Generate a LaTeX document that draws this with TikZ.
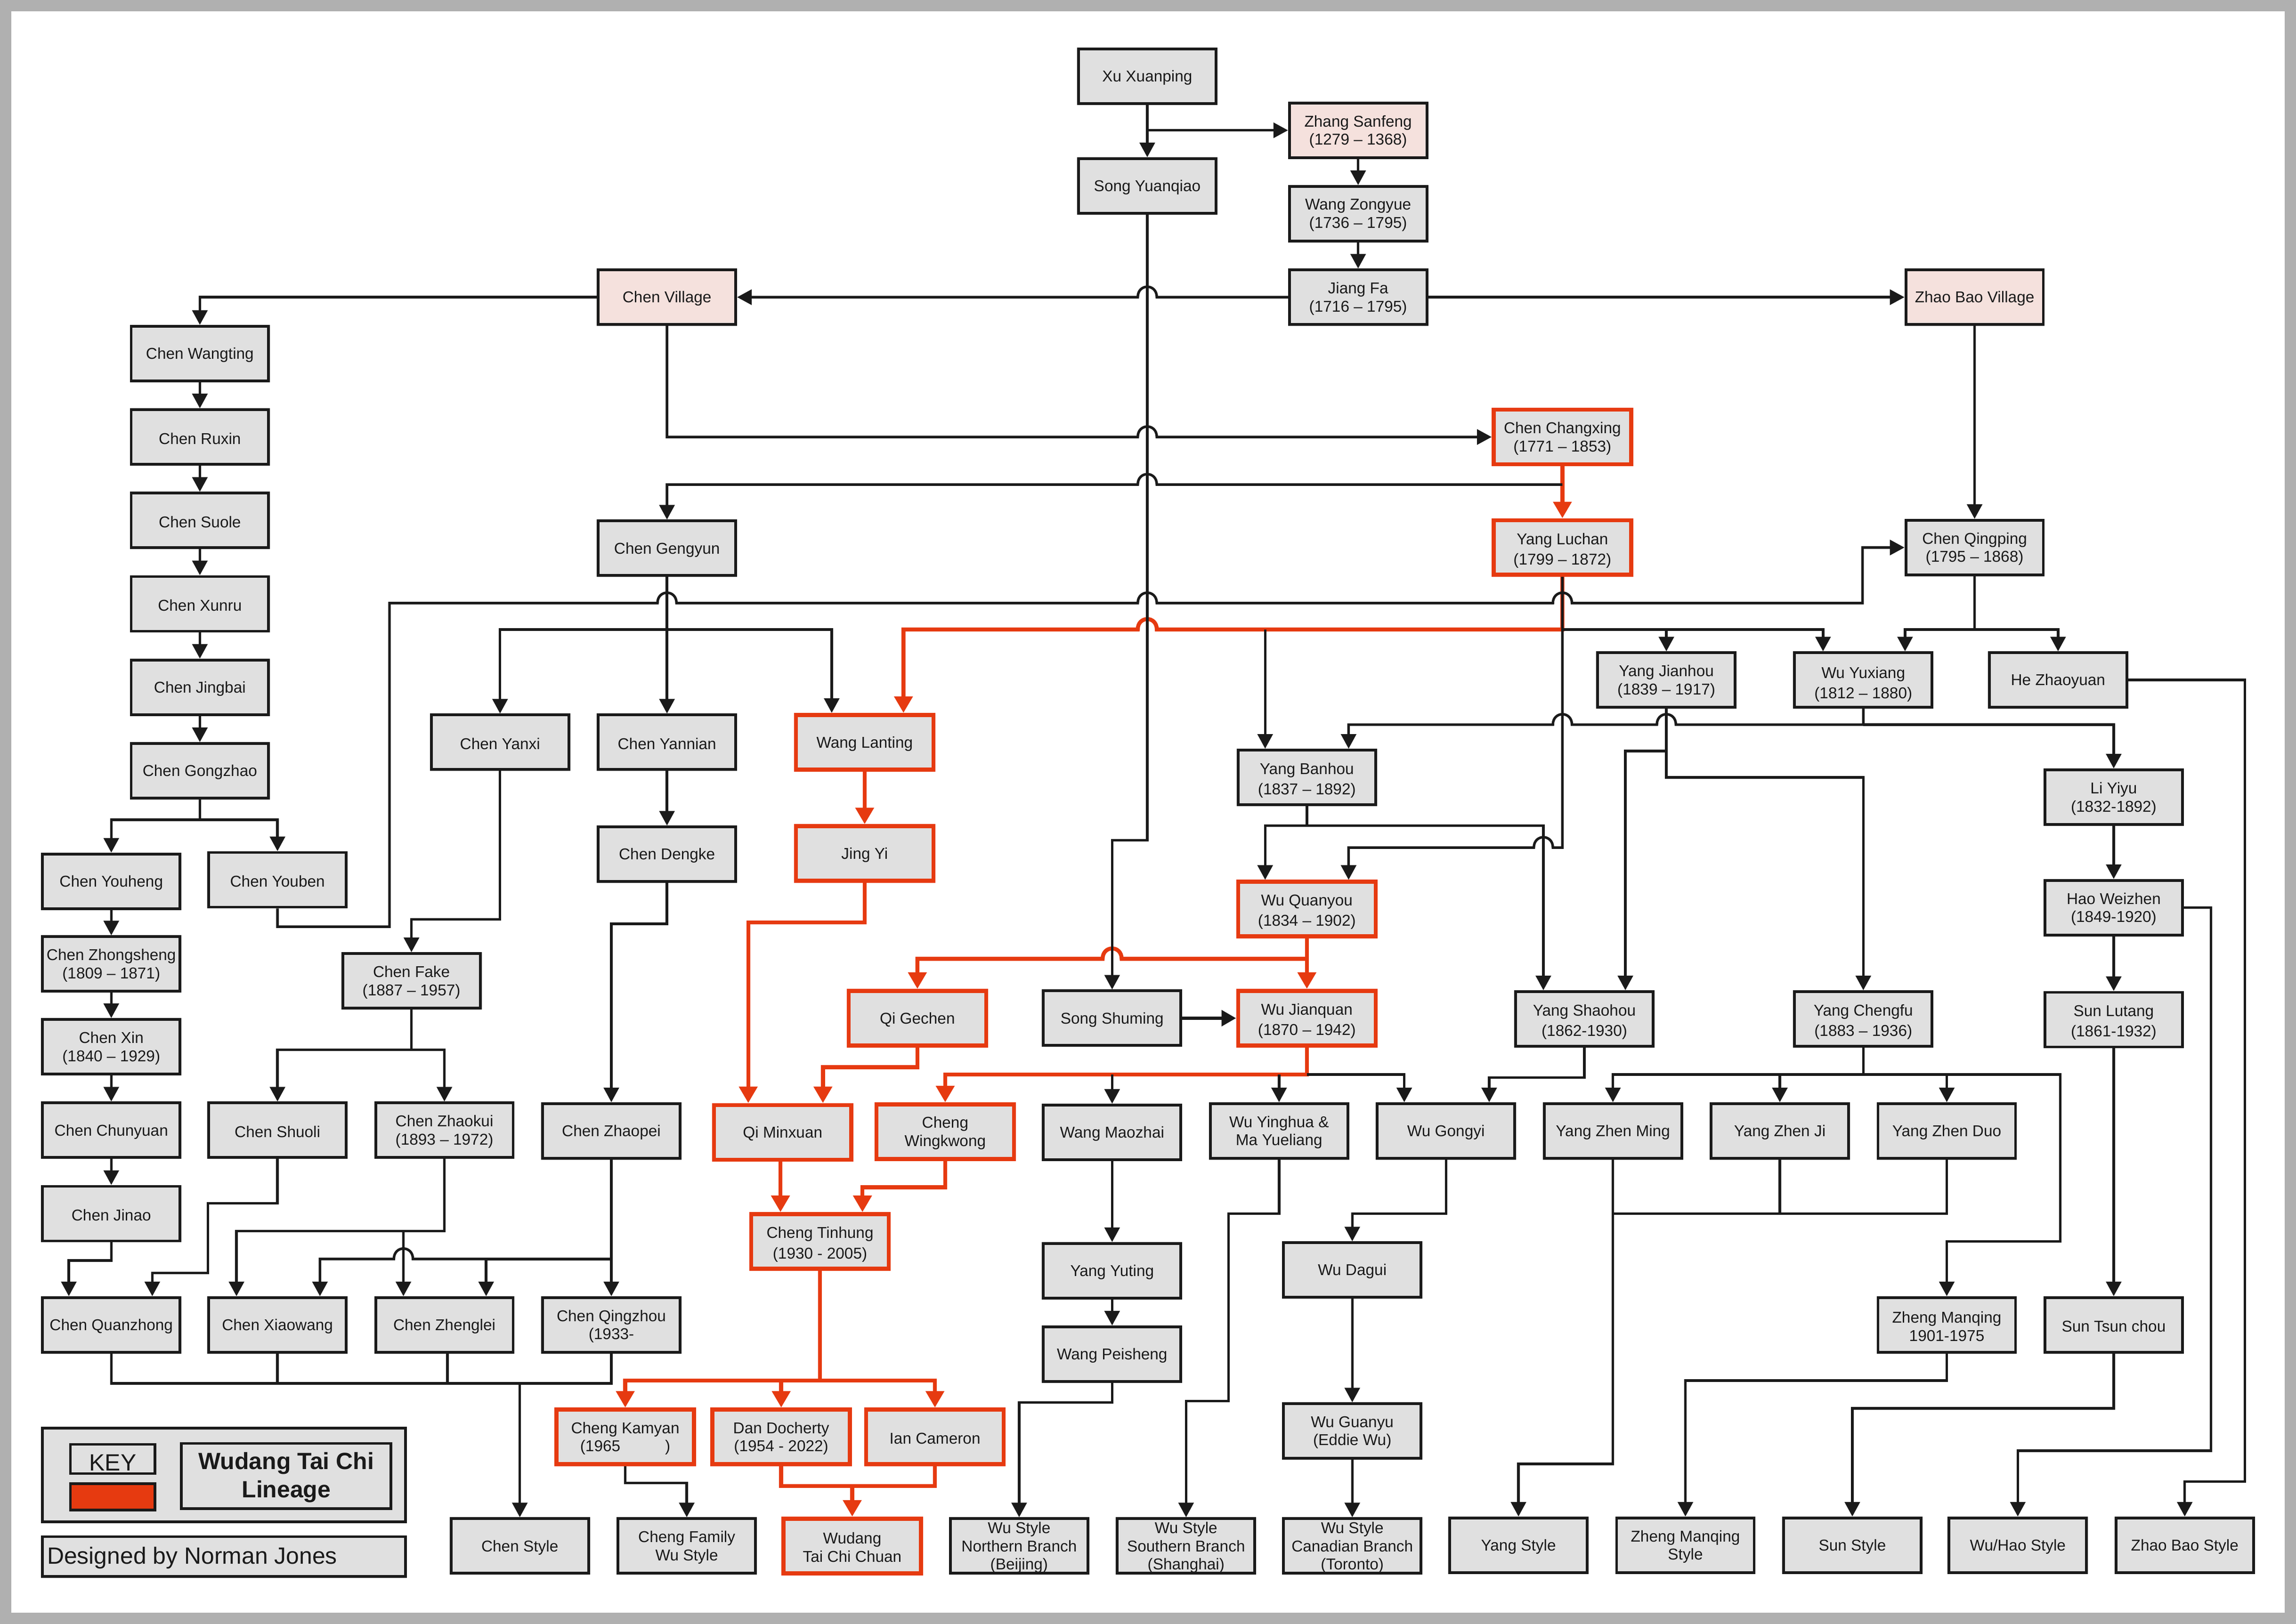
\documentclass[tikz,border=0pt]{standalone}
\usepackage{fontspec}
\setmainfont{Liberation Sans}
\usetikzlibrary{arrows.meta}
\definecolor{boxgray}{HTML}{E0E0E0}
\definecolor{boxpink}{HTML}{F5E1DD}
\definecolor{lred}{HTML}{E63A10}
\definecolor{lblack}{HTML}{1A1A1A}
\definecolor{frameg}{HTML}{B0B0B0}
\newcommand{\hopl}[2]{-- (#1+6.5,#2) .. controls (#1+6.5,#2-9.5) and (#1-6.5,#2-9.5) .. (#1-6.5,#2)}
\newcommand{\hopr}[2]{-- (#1-6.5,#2) .. controls (#1-6.5,#2-9.5) and (#1+6.5,#2-9.5) .. (#1+6.5,#2)}
\tikzset{
  x=0.03109cm,y=-0.03109cm,
  pers/.style={draw=lblack,fill=boxgray,line width=1.65pt,minimum width=2.92cm,minimum height=1.16cm,inner sep=0pt,align=center,font=\fontsize{9.5}{11}\selectfont,text=lblack,text height={\dimexpr\ht\pgfnodeparttextbox+1.8pt\relax}},
  place/.style={pers,fill=boxpink},
  redbox/.style={pers,draw=lred,line width=2.45pt},
  widetext/.style={font=\fontsize{9.5}{12.3}\selectfont,text height={\dimexpr\ht\pgfnodeparttextbox+3.6pt\relax}},
  blk/.style={draw=lblack,line width=1.55pt},
  ar/.style={blk,-{Triangle[width=0.32cm,length=0.31cm]}},
  red/.style={draw=lred,line width=2.4pt},
  rar/.style={red,-{Triangle[width=0.38cm,length=0.35cm]}},
}
\begin{document}
\begin{tikzpicture}
\useasboundingbox (0,0) rectangle (1568,1109.3);
\fill[frameg] (0,0) rectangle (1568,1109.3);
\fill[white] (7.7,7.7) rectangle (1560.3,1101.6);
% people
\node[pers] (xu) at (783.5,52) {Xu Xuanping};
\node[pers] (song) at (783.5,127) {Song Yuanqiao};
\node[place] (zhang) at (927.5,89) {Zhang Sanfeng\\(1279 – 1368)};
\node[pers] (zongyue) at (927.5,146) {Wang Zongyue\\(1736 – 1795)};
\node[pers] (jiang) at (927.5,203) {Jiang Fa\\(1716 – 1795)};
\node[place] (cvill) at (455.5,203) {Chen Village};
\node[place] (zvill) at (1348.5,203) {Zhao Bao Village};
\node[pers] (wangting) at (136.5,241.5) {Chen Wangting};
\node[pers] (ruxin) at (136.5,298.5) {Chen Ruxin};
\node[pers] (suole) at (136.5,355.5) {Chen Suole};
\node[pers] (xunru) at (136.5,412.5) {Chen Xunru};
\node[pers] (jingbai) at (136.5,469.5) {Chen Jingbai};
\node[pers] (gongzhao) at (136.5,526.5) {Chen Gongzhao};
\node[pers] (youheng) at (76,602) {Chen Youheng};
\node[pers] (youben) at (189.5,601) {Chen Youben};
\node[pers] (zhongsheng) at (76,658.5) {Chen Zhongsheng\\(1809 – 1871)};
\node[pers] (cxin) at (76,715) {Chen Xin\\(1840 – 1929)};
\node[pers] (chunyuan) at (76,772) {Chen Chunyuan};
\node[pers] (jinao) at (76,829) {Chen Jinao};
\node[pers] (quanzhong) at (76,905) {Chen Quanzhong};
\node[redbox] (changxing) at (1067,298.5) {Chen Changxing\\(1771 – 1853)};
\node[redbox,widetext] (luchan) at (1067,374) {Yang Luchan\\(1799 – 1872)};
\node[pers] (gengyun) at (455.5,374.5) {Chen Gengyun};
\node[pers] (qingping) at (1348.5,374) {Chen Qingping\\(1795 – 1868)};
\node[pers] (jianhou) at (1138,464.5) {Yang Jianhou\\(1839 – 1917)};
\node[pers,font=\fontsize{9.5}{12.2}\selectfont,text height={\dimexpr\ht\pgfnodeparttextbox+5pt\relax}] (yuxiang) at (1272.5,464.5) {Wu Yuxiang\\(1812 – 1880)};
\node[pers] (zhaoyuan) at (1405.5,464.5) {He Zhaoyuan};
\node[pers] (yanxi) at (341.5,507) {Chen Yanxi};
\node[pers] (yannian) at (455.5,507) {Chen Yannian};
\node[redbox] (lanting) at (590.5,507) {Wang Lanting};
\node[pers,widetext] (banhou) at (892.5,531) {Yang Banhou\\(1837 – 1892)};
\node[pers] (liyiyu) at (1443.5,544.5) {Li Yiyu\\(1832-1892)};
\node[redbox] (jingyi) at (590.5,583) {Jing Yi};
\node[pers] (dengke) at (455.5,583.5) {Chen Dengke};
\node[redbox,widetext] (quanyou) at (892.5,621) {Wu Quanyou\\(1834 – 1902)};
\node[pers] (weizhen) at (1443.5,620) {Hao Weizhen\\(1849-1920)};
\node[pers] (fake) at (281,670) {Chen Fake\\(1887 – 1957)};
\node[redbox] (gechen) at (626.5,695.5) {Qi Gechen};
\node[pers] (shuming) at (759.5,695.5) {Song Shuming};
\node[redbox,widetext] (jianquan) at (892.5,695.5) {Wu Jianquan\\(1870 – 1942)};
\node[pers,widetext] (shaohou) at (1082,696) {Yang Shaohou\\(1862-1930)};
\node[pers,widetext] (chengfu) at (1272.5,696) {Yang Chengfu\\(1883 – 1936)};
\node[pers,widetext] (lutang) at (1443.5,696.5) {Sun Lutang\\(1861-1932)};
\node[pers] (shuoli) at (189.5,772) {Chen Shuoli};
\node[pers] (zhaokui) at (303.5,772) {Chen Zhaokui\\(1893 – 1972)};
\node[pers] (zhaopei) at (417.5,772.5) {Chen Zhaopei};
\node[redbox] (minxuan) at (534.5,773.5) {Qi Minxuan};
\node[redbox] (wingkwong) at (645.5,773) {Cheng\\Wingkwong};
\node[pers] (maozhai) at (759.5,773.5) {Wang Maozhai};
\node[pers] (yinghua) at (873.5,772.5) {Wu Yinghua \&\\Ma Yueliang};
\node[pers] (gongyi) at (987.5,772.5) {Wu Gongyi};
\node[pers] (zming) at (1101.5,772.5) {Yang Zhen Ming};
\node[pers] (zji) at (1215.5,772.5) {Yang Zhen Ji};
\node[pers] (zduo) at (1329.5,772.5) {Yang Zhen Duo};
\node[redbox,widetext] (tinhung) at (560,848) {Cheng Tinhung\\(1930 - 2005)};
\node[pers] (yuting) at (759.5,868) {Yang Yuting};
\node[pers] (dagui) at (923.5,867.5) {Wu Dagui};
\node[pers] (xiaowang) at (189.5,905) {Chen Xiaowang};
\node[pers] (zhenglei) at (303.5,905) {Chen Zhenglei};
\node[pers] (qingzhou) at (417.5,905) {Chen Qingzhou\\(1933-};
\node[pers] (peisheng) at (759.5,925) {Wang Peisheng};
\node[pers] (manqing) at (1329.5,905) {Zheng Manqing\\1901-1975};
\node[pers] (tsunchou) at (1443.5,905) {Sun Tsun chou};
\node[redbox] (kamyan) at (427,981.5) {Cheng Kamyan\\(1965\hspace{0.95cm})};
\node[redbox] (docherty) at (533.5,981.5) {Dan Docherty\\(1954 - 2022)};
\node[redbox] (cameron) at (638.5,981.5) {Ian Cameron};
\node[pers] (guanyu) at (923.5,977.5) {Wu Guanyu\\(Eddie Wu)};
\node[pers] (schen) at (355,1056) {Chen Style};
\node[pers] (sfamily) at (469,1056) {Cheng Family\\Wu Style};
\node[redbox] (swudang) at (582,1056) {Wudang\\Tai Chi Chuan};
\node[pers] (snorth) at (696,1056) {Wu Style\\Northern Branch\\(Beijing)};
\node[pers] (ssouth) at (810,1056) {Wu Style\\Southern Branch\\(Shanghai)};
\node[pers] (scanada) at (923.5,1056) {Wu Style\\Canadian Branch\\(Toronto)};
\node[pers] (syang) at (1037,1055.5) {Yang Style};
\node[pers] (szheng) at (1151,1055.5) {Zheng Manqing\\Style};
\node[pers] (ssun) at (1265,1055.5) {Sun Style};
\node[pers] (swuhao) at (1378,1055.5) {Wu/Hao Style};
\node[pers] (szhao) at (1492,1055.5) {Zhao Bao Style};
% key
\node[pers,minimum width=7.71cm,minimum height=1.99cm] (keyframe) at (153,1007.5) {};
\node[pers,minimum width=1.80cm,minimum height=0.62cm,font=\fontsize{14.2}{16}\selectfont] (keybox) at (77,996.6) {\raisebox{-2.2pt}[\height][\depth]{\underline{KEY}}};
\node[pers,fill=lred,minimum width=1.80cm,minimum height=0.56cm] (keyred) at (77,1022.5) {};
\node[pers,minimum width=4.45cm,minimum height=1.39cm,font=\fontsize{14.2}{17}\selectfont\bfseries] (title) at (195.5,1008.3) {Wudang Tai Chi\\Lineage};
\node[pers,minimum width=7.71cm,minimum height=0.85cm] (credit) at (153,1063.3) {};
\node[font=\fontsize{14.2}{16}\selectfont,text=lblack,anchor=west,inner sep=0pt] (credittext) at (32,1064.3) {Designed by Norman Jones};
% red connectors
\draw[rar] (changxing.south) -- (luchan.north);
\draw[rar] (luchan.south) -- (1067,430) \hopl{783.5}{430} -- (617,430) -- (617,0 |- lanting.north);
\draw[rar] (lanting.south) -- (jingyi.north);
\draw[rar] (jingyi.south) -- (590.5,630) -- (511,630) -- (511,0 |- minxuan.north);
\draw[rar] (quanyou.south) -- (jianquan.north);
\draw[rar] (892.5,655) \hopl{759.5}{655} -- (626.5,655) -- (gechen.north);
\draw[rar] (gechen.south) -- (626.5,729) -- (562,729) -- (562,0 |- minxuan.north);
\draw[rar] (jianquan.south) -- (892.5,734) -- (645.5,734) -- (wingkwong.north);
\draw[rar] (533,0 |- minxuan.south) -- (533,0 |- tinhung.north);
\draw[rar] (wingkwong.south) -- (645.5,811) -- (589,811) -- (589,0 |- tinhung.north);
\draw[rar] (tinhung.south) -- (560,943) -- (427,943) -- (kamyan.north);
\draw[rar] (533.5,943) -- (docherty.north);
\draw[rar] (560,943) -- (638.5,943) -- (cameron.north);
\draw[rar] (docherty.south) -- (533.5,1015) -- (582,1015) -- (swudang.north);
\draw[red] (cameron.south) -- (638.5,1015) -- (582,1015);
% black connectors
\draw[ar] (xu.south) -- (song.north);
\draw[ar] (xu.south |- zhang.west) -- (zhang.west);
\draw[ar] (zhang.south) -- (zongyue.north);
\draw[ar] (zongyue.south) -- (jiang.north);
\draw[ar] (song.south) -- (783.5,574) -- (759.5,574) -- (shuming.north);
\draw[ar] (jiang.west) \hopl{783.5}{203} -- (cvill.east);
\draw[ar] (jiang.east) -- (zvill.west);
\draw[ar] (zvill.south) -- (qingping.north);
\draw[ar] (cvill.west) -- (136.5,203) -- (wangting.north);
\draw[ar] (cvill.south) -- (455.5,298.5) \hopr{783.5}{298.5} -- (changxing.west);
\draw[ar] (wangting.south) -- (ruxin.north);
\draw[ar] (ruxin.south) -- (suole.north);
\draw[ar] (suole.south) -- (xunru.north);
\draw[ar] (xunru.south) -- (jingbai.north);
\draw[ar] (jingbai.south) -- (gongzhao.north);
\draw[ar] (gongzhao.south) -- (136.5,560) -- (76,560) -- (youheng.north);
\draw[ar] (136.5,560) -- (189.5,560) -- (youben.north);
\draw[ar] (youheng.south) -- (zhongsheng.north);
\draw[ar] (zhongsheng.south) -- (cxin.north);
\draw[ar] (cxin.south) -- (chunyuan.north);
\draw[ar] (chunyuan.south) -- (jinao.north);
\draw[ar] (jinao.south) -- (76,861) -- (47,861) -- (47,0 |- quanzhong.north);
\draw[ar] (shuoli.south) -- (189.5,822) -- (142,822) -- (142,869.5) -- (104,869.5) -- (104,0 |- quanzhong.north);
\draw[ar] (youben.south) -- (189.5,633) -- (266,633) -- (266,412) \hopr{455.5}{412} \hopr{783.5}{412} \hopr{1067}{412} -- (1272,412) -- (1272,374) -- (qingping.west);
\draw[ar] (1067,331) \hopl{783.5}{331} -- (455.5,331) -- (gengyun.north);
\draw[ar] (gengyun.south) -- (yannian.north);
\draw[ar] (455.5,430) -- (341.5,430) -- (yanxi.north);
\draw[ar] (455.5,430) -- (568,430) -- (568,0 |- lanting.north);
\draw[ar] (864,430) -- (864,0 |- banhou.north);
\draw[ar] (luchan.south) -- (1067,579) \hopl{1054}{579} -- (921,579) -- (921,0 |- quanyou.north);
\draw[ar] (1067,430) -- (1245,430) -- (1245,0 |- yuxiang.north);
\draw[ar] (1138,430) -- (1138,0 |- jianhou.north);
\draw[ar] (qingping.south) -- (1348.5,430) -- (1301,430) -- (1301,0 |- yuxiang.north);
\draw[ar] (1348.5,430) -- (1405.5,430) -- (zhaoyuan.north);
\draw[ar] (zhaoyuan.east) -- (1533,464.5) -- (1533,1012) -- (1492,1012) -- (szhao.north);
\draw[ar] (jianhou.south) -- (1138,513) -- (1110,513) -- (1110,0 |- shaohou.north);
\draw[ar] (1138,513) -- (1138,531) -- (1272.5,531) -- (chengfu.north);
\draw[ar] (yuxiang.south) -- (1272.5,495) \hopl{1138}{495} \hopl{1067}{495} -- (921,495) -- (921,0 |- banhou.north);
\draw[ar] (1272.5,495) -- (1443.5,495) -- (liyiyu.north);
\draw[ar] (banhou.south) -- (892.5,564) -- (864,564) -- (864,0 |- quanyou.north);
\draw[ar] (892.5,564) -- (1054,564) -- (1054,0 |- shaohou.north);
\draw[draw=lblack,line width=2.2pt,-{Triangle[width=0.33cm,length=0.31cm]}] (shuming.east) -- (jianquan.west);
\draw[ar] (759.5,734) -- (maozhai.north);
\draw[ar] (873.5,734) -- (yinghua.north);
\draw[ar] (892.5,734) -- (959,734) -- (959,0 |- gongyi.north);
\draw[ar] (kamyan.south) -- (427,1013) -- (469,1013) -- (sfamily.north);
\draw[ar] (yanxi.south) -- (341.5,628) -- (281,628) -- (fake.north);
\draw[ar] (yannian.south) -- (dengke.north);
\draw[ar] (dengke.south) -- (455.5,631) -- (417.5,631) -- (zhaopei.north);
\draw[ar] (fake.south) -- (281,717) -- (189.5,717) -- (shuoli.north);
\draw[ar] (281,717) -- (303.5,717) -- (zhaokui.north);
\draw[ar] (zhaokui.south) -- (303.5,841) -- (161.5,841) -- (161.5,0 |- xiaowang.north);
\draw[ar] (275.5,841) -- (275.5,0 |- zhenglei.north);
\draw[ar] (zhaopei.south) -- (qingzhou.north);
\draw[ar] (417.5,860) -- (332,860) -- (332,0 |- zhenglei.north);
\draw[ar] (332,860) \hopl{275.5}{860} -- (218.5,860) -- (218.5,0 |- xiaowang.north);
\draw[blk] (quanzhong.south) -- (76,945) -- (417.5,945) -- (qingzhou.south);
\draw[blk] (xiaowang.south) -- (189.5,945);
\draw[blk] (305.6,0 |- zhenglei.south) -- (305.6,945);
\draw[ar] (355,945) -- (schen.north);
\draw[ar] (maozhai.south) -- (yuting.north);
\draw[ar] (yuting.south) -- (peisheng.north);
\draw[ar] (peisheng.south) -- (759.5,958) -- (696,958) -- (snorth.north);
\draw[ar] (yinghua.south) -- (873.5,829) -- (839,829) -- (839,957) -- (810,957) -- (ssouth.north);
\draw[ar] (gongyi.south) -- (987.5,829) -- (923.5,829) -- (dagui.north);
\draw[ar] (dagui.south) -- (guanyu.north);
\draw[ar] (guanyu.south) -- (scanada.north);
\draw[ar] (shaohou.south) -- (1082,736) -- (1017,736) -- (1017,0 |- gongyi.north);
\draw[ar] (chengfu.south) -- (1272.5,734) -- (1101.5,734) -- (zming.north);
\draw[ar] (1215.5,734) -- (zji.north);
\draw[ar] (1272.5,734) -- (1329.5,734) -- (zduo.north);
\draw[ar] (1329.5,734) -- (1407,734) -- (1407,848) -- (1329.5,848) -- (manqing.north);
\draw[ar] (zming.south) -- (1101.5,1000) -- (1037,1000) -- (syang.north);
\draw[blk] (zji.south) -- (1215.5,829);
\draw[blk] (zduo.south) -- (1329.5,829) -- (1101.5,829);
\draw[ar] (manqing.south) -- (1329.5,943) -- (1151,943) -- (szheng.north);
\draw[ar] (tsunchou.south) -- (1443.5,962) -- (1265,962) -- (ssun.north);
\draw[ar] (lutang.south) -- (tsunchou.north);
\draw[ar] (weizhen.east) -- (1510,620) -- (1510,991) -- (1378,991) -- (swuhao.north);
\draw[ar] (liyiyu.south) -- (weizhen.north);
\draw[ar] (weizhen.south) -- (lutang.north);
\end{tikzpicture}
\end{document}
